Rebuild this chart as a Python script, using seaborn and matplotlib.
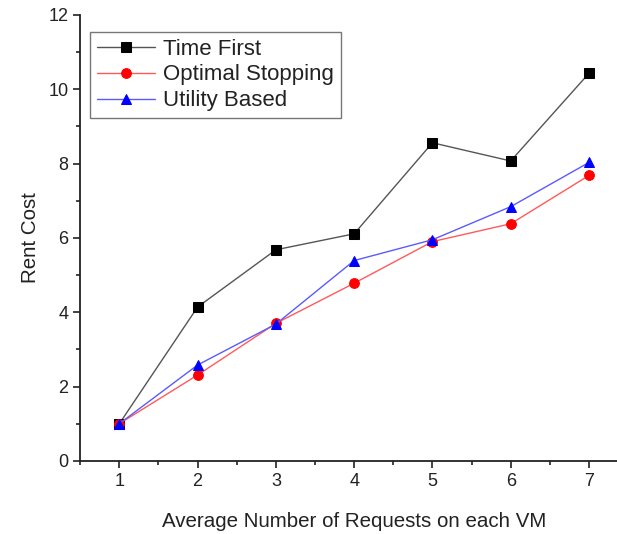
import pandas as pd
import matplotlib
matplotlib.use("Agg")
import matplotlib.pyplot as plt
import seaborn as sns
from matplotlib.ticker import MultipleLocator

# Values.
requests = [1, 2, 3, 4, 5, 6, 7]
time_first = [1.0, 4.14, 5.68, 6.11, 8.56, 8.07, 10.43]
optimal_stopping = [1.0, 2.31, 3.70, 4.78, 5.90, 6.38, 7.68]
utility_based = [1.0, 2.58, 3.68, 5.39, 5.95, 6.84, 8.03]

df = pd.DataFrame({"requests": requests, "Time First": time_first,
                   "Optimal Stopping": optimal_stopping, "Utility Based": utility_based})

sns.set_style("ticks")
plt.rcParams["font.family"] = ["Liberation Sans", "DejaVu Sans"]

fig = plt.figure(figsize=(6.17, 5.34), dpi=100)
ax = fig.add_axes([0.130, 0.137, 0.888, 0.835])

# line colour, marker colour, marker shape
styles = {"Time First": ("#555555", "black", "s"),
          "Optimal Stopping": ("#ff5a5a", "red", "o"),
          "Utility Based": ("#5a5aff", "blue", "^")}
for name, (lc, mc, mk) in styles.items():
    sns.lineplot(x="requests", y=name, data=df, ax=ax, color=lc, linewidth=1,
                 marker=mk, markersize=7, markerfacecolor=mc, markeredgecolor=mc,
                 label=name)

ax.set_xlim(0.5, 7.5)
ax.set_ylim(0, 12)
ax.xaxis.set_major_locator(MultipleLocator(1))
ax.xaxis.set_minor_locator(MultipleLocator(0.5))
ax.yaxis.set_major_locator(MultipleLocator(2))
ax.yaxis.set_minor_locator(MultipleLocator(1))
ax.tick_params(which="major", length=5, width=1.2, labelsize=13, direction="out",
               color="#222222", labelcolor="#222222")
ax.tick_params(which="minor", length=3, width=1.2, direction="out", color="#222222")
for s in ["left", "bottom"]:
    ax.spines[s].set_linewidth(1.3)
    ax.spines[s].set_color("#222222")
sns.despine(ax=ax)

ax.set_xlabel("Average Number of Requests on each VM", fontsize=14.8, labelpad=16,
              color="#222222")
ax.set_ylabel("Rent Cost", fontsize=14.8, labelpad=6, color="#222222")

leg = ax.legend(loc="upper left", bbox_to_anchor=(0.018, 0.962), fontsize=16,
                frameon=True, fancybox=False, handlelength=2.6, borderpad=0.3,
                labelspacing=0.22, handletextpad=0.4, borderaxespad=0)
leg.get_frame().set_edgecolor("#555555")
leg.get_frame().set_linewidth(1)
for t in leg.get_texts():
    t.set_color("#222222")

fig.savefig("out.png", dpi=100)
